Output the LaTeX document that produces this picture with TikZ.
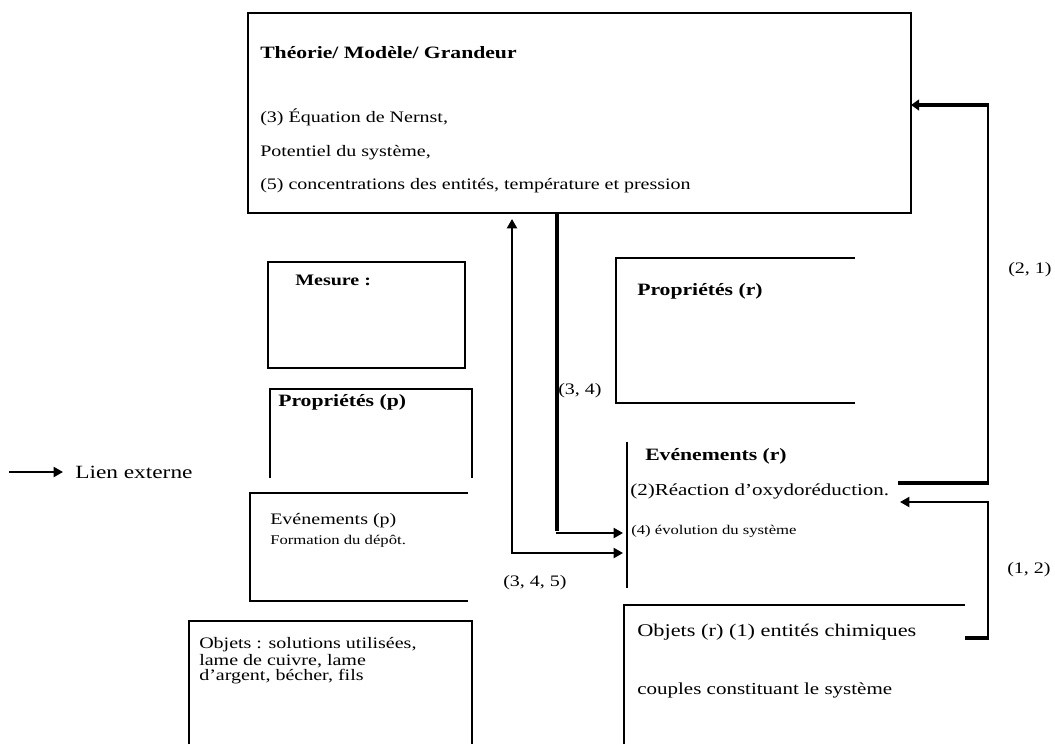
\documentclass[tikz,border=0pt]{standalone}
\usepackage{fontspec}
\setmainfont{Liberation Serif}[FakeStretch=1.25]
\usetikzlibrary{arrows.meta}

\begin{document}
\begin{tikzpicture}[x=0.75pt, y=-0.75pt,
  frame/.style={line width=1.5pt, line join=miter},
  txt/.style={anchor=west, inner sep=0pt, font=\fontsize{12}{14}\selectfont},
  head/.style={anchor=west, inner sep=0pt, font=\fontsize{13}{15}\selectfont\bfseries},
  small/.style={anchor=west, inner sep=0pt, font=\fontsize{10}{12}\selectfont},
  link/.style={line width=1.5pt, -{Triangle[length=7pt, width=7.5pt]}},
  heavy/.style={line width=3.5pt}]

  % page area
  \useasboundingbox (0,0) rectangle (1055,744);

  % ---- theory box ----
  \node[draw, frame, anchor=north west, minimum width=497.25pt, minimum height=150pt,
        inner sep=0pt] (theorie) at (247,12) {};
  \node[head] (thTitle) at (260,53) {Théorie/ Modèle/ Grandeur};
  \node[txt] (thL1) at (260,117) {(3) Équation de Nernst,};
  \node[txt] (thL2) at (260,153) {Potentiel du système,};
  \node[txt] (thL3) at (260,186) {(5) concentrations des entités, température et pression};

  % ---- measurement box ----
  \node[draw, frame, anchor=north west, minimum width=147.75pt, minimum height=79.5pt,
        inner sep=0pt] (mesure) at (267,261) {};
  \node[head, font=\fontsize{12}{14}\selectfont\bfseries] (mesTxt) at (295,280) {Mesure :};

  % ---- left column: properties / events / objects (p) ----
  \draw[frame] (270,478) -- (270,389) -- (472,389) -- (472,478);
  \node[head] (propP) at (278,402) {Propriétés (p)};

  \draw[frame] (468,493) -- (250,493) -- (250,601) -- (468,601);
  \node[txt] (evP) at (270,521) {Evénements (p)};
  \node[small] (evPL) at (270,541) {Formation du dépôt.};

  \draw[frame] (189,744) -- (189,621) -- (472,621) -- (472,744);
  \node[txt] (objP1) at (199,645) {Objets : solutions utilisées,};
  \node[txt] (objP2) at (199,661) {lame de cuivre, lame};
  \node[txt] (objP3) at (199,677) {d'argent, bécher, fils};

  % ---- legend ----
  \coordinate (lg0) at (9,472);
  \node[txt, font=\fontsize{14}{16}\selectfont] (lgTxt) at (75,472) {Lien externe};
  \draw[link] (lg0) -- ([xshift=-9pt]lgTxt.west);

  % ---- right column: properties / events / objects (r) ----
  \draw[frame] (855,258) -- (616,258) -- (616,403) -- (855,403);
  \node[head] (propR) at (637,291) {Propriétés (r)};

  \draw[frame] (627,442) -- (627,588);
  \node[head] (evR) at (645,456) {Evénements (r)};
  \node[txt, font=\fontsize{12.6}{14}\selectfont] (evR2) at (630,491) {(2)Réaction d'oxydoréduction.};
  \node[small] (evR4) at (631,531) {(4) évolution du système};

  \draw[frame] (624,744) -- (624,605) -- (965,605);
  \node[txt, font=\fontsize{13.4}{15}\selectfont] (objR1) at (637,632) {Objets (r) (1) entités chimiques};
  \node[txt, font=\fontsize{12.6}{14}\selectfont] (objR2) at (637,690) {couples constituant le système};

  % ---- connector end points ----
  \coordinate (a34) at (557,212);
  \coordinate (k34) at (557,533);
  \coordinate (e4) at (623,533);
  \coordinate (e5) at (623,553);
  \coordinate (t5) at (512,219);
  \coordinate (e2) at (898,483);
  \coordinate (k21) at (988,483);
  \coordinate (k21b) at (988,105);
  \coordinate (tR) at (911,105);
  \coordinate (o1) at (965,638);
  \coordinate (k12) at (988,638);
  \coordinate (e1) at (900,502);

  % (3, 4): theory -> events (r)
  \draw[heavy] (a34) -- ([yshift=1.3pt]k34);
  \draw[link] ([xshift=-1pt]k34) -- (e4);
  \node[txt] (l34) at (558,391) {(3, 4)};

  % (3, 4, 5): events (r) <-> theory
  \draw[line width=1.5pt, {Triangle[length=7pt, width=7.5pt]}-{Triangle[length=7pt, width=7.5pt]}]
    (t5) |- (e5);
  \node[txt] (l345) at (503,583) {(3, 4, 5)};

  % (2, 1): events (r) -> theory
  \draw[heavy] (e2) -- ([xshift=0.75pt]k21);
  \draw[line width=1.5pt] (k21) -- ([yshift=1pt]k21b);
  \draw[line width=3pt, -{Triangle[length=6pt, width=8pt]}] ([xshift=0.75pt]k21b) -- (tR);
  \node[txt] (l21) at (1008,270) {(2, 1)};

  % (1, 2): objects (r) -> events (r)
  \draw[line width=2.5pt] (o1) -- ([xshift=0.75pt]k12);
  \draw[link] (k12) |- (e1);
  \node[txt] (l12) at (1007,570) {(1, 2)};
\end{tikzpicture}
\end{document}
